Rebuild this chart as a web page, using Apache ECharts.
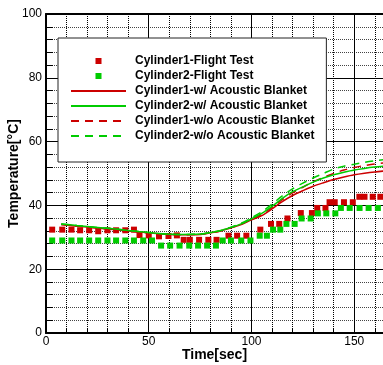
<!DOCTYPE html>
<html><head><meta charset="utf-8">
<script src="https://cdn.jsdelivr.net/npm/echarts@6/dist/echarts.min.js"></script>
<style>html,body{margin:0;padding:0;background:#fff}#c{width:383px;height:365px}</style>
</head><body><div id="c"></div>
<script>
const seriesNames = ['Cylinder1-Flight Test','Cylinder2-Flight Test','Cylinder1-w/ Acoustic Blanket','Cylinder2-w/ Acoustic Blanket','Cylinder1-w/o Acoustic Blanket','Cylinder2-w/o Acoustic Blanket'];
const c1TestTime = [3, 7.9, 12.4, 16.6, 21, 25.4, 29.9, 34.1, 38.6, 42.8, 45.5, 50, 55, 59.6, 63.7, 67, 70, 74.5, 79, 83, 88.8, 93, 97.5, 104.3, 109.5, 113.5, 117.5, 124, 129.4, 132, 136, 138, 140.5, 145, 149.3, 152.5, 155, 159, 162.7];
const c1TestTemp = [32.4, 32.4, 32.4, 32.2, 32.2, 31.9, 32.2, 32.2, 32.2, 32.4, 30.7, 30.6, 30.3, 30.4, 30.6, 29.2, 29.2, 29.2, 29.2, 29.2, 30.5, 30.5, 30.5, 32.4, 34.2, 34.2, 35.9, 37.6, 37.6, 39.2, 39.2, 41, 41, 41, 41, 42.7, 42.7, 42.7, 42.7];
const c2TestTime = [3, 7.9, 12.4, 16.6, 21, 25.4, 29.9, 34.1, 38.6, 42.8, 47.3, 51.6, 56, 60.4, 65, 69.7, 74, 78.4, 82.7, 86, 90, 95, 99.5, 104, 107.5, 110.5, 114, 117, 121, 124.4, 128.8, 132.3, 136.4, 140.8, 143.5, 147.8, 152.6, 157, 161.5];
const c2TestTemp = [29, 29, 29, 29, 29, 29, 29, 29, 29, 29, 29, 29, 27.4, 27.4, 27.4, 27.4, 27.4, 27.4, 27.4, 29, 29, 29, 29, 30.5, 30.5, 32.4, 32.4, 34.2, 34.2, 35.9, 35.9, 37.5, 37.5, 37.5, 39.2, 39.2, 39.2, 39.2, 39.2];
const simTime = [7.4, 15, 25, 35, 45, 55, 65, 75, 80, 85, 90, 95, 100, 105, 110, 115, 120, 125, 130, 135, 140, 145, 150, 155, 160, 165];
const c1With = [34.0, 33.5, 32.9, 32.3, 31.7, 31.1, 30.8, 30.9, 31.4, 32.0, 33.0, 34.0, 35.5, 36.8, 38.9, 41.2, 43.1, 44.6, 46.0, 47.1, 48.1, 48.9, 49.6, 50.1, 50.5, 50.8];
const c2With = [34.2, 33.7, 33.1, 32.5, 31.8, 31.2, 30.9, 31.0, 31.5, 32.1, 33.1, 34.2, 35.8, 37.5, 39.7, 42.2, 44.3, 45.8, 47.3, 48.6, 49.6, 50.4, 51.1, 51.6, 52.0, 52.3];
const c1Without = [34.0, 33.5, 32.9, 32.3, 31.7, 31.1, 30.8, 30.9, 31.4, 32.0, 33.0, 34.1, 35.7, 37.2, 39.4, 41.8, 43.9, 45.7, 47.4, 48.8, 50.0, 51.1, 51.9, 52.5, 53.0, 53.4];
const c2Without = [34.2, 33.7, 33.1, 32.5, 31.8, 31.2, 30.9, 31.0, 31.5, 32.1, 33.2, 34.4, 36.1, 38.0, 40.4, 43.0, 45.2, 47.0, 48.6, 50.0, 51.4, 52.3, 52.9, 53.5, 54.0, 54.4];
const xTickLabels = [0, 50, 100, 150];
const yTickLabels = [0, 20, 40, 60, 80, 100];

const RED = '#cc0000', GREEN = '#00cc00';
const FONT = 'Arial, "Liberation Sans", sans-serif';
const squareIcon = 'path://M0,0h55v0.01h-55z M24.5,2h6v6h-6z M0,9.99h55v0.01h-55z';
function pairs(xs, ys) { return xs.map((x, i) => [x, ys[i]]); }

const chart = echarts.init(document.getElementById('c'), null, {renderer: 'canvas'});
const option = {
  animation: false,
  backgroundColor: '#fff',
  grid: {left: 46, right: 0, top: 14, bottom: 32, containLabel: false, outerBoundsMode: 'none'},
  legend: {
    orient: 'vertical', left: 58, top: 38,
    padding: [15.5, 12, 18.5, 12],
    itemWidth: 55, itemHeight: 10, itemGap: 0,
    backgroundColor: '#fff', borderColor: '#222', borderWidth: 1,
    selectedMode: false,
    textStyle: {fontFamily: FONT, fontSize: 12, fontWeight: 'bold', color: '#000', lineHeight: 15, padding: [0, 0, 0, 4]},
    data: [
      {name: seriesNames[0], icon: squareIcon},
      {name: seriesNames[1], icon: squareIcon},
      {name: seriesNames[2], itemStyle: {opacity: 0}},
      {name: seriesNames[3], itemStyle: {opacity: 0}},
      {name: seriesNames[4], itemStyle: {opacity: 0}},
      {name: seriesNames[5], itemStyle: {opacity: 0}}
    ]
  },
  xAxis: [
    {
      type: 'value', min: 0, max: 164, interval: 10, position: 'bottom',
      name: 'Time[sec]', nameLocation: 'middle', nameGap: 15, nameMoveOverlap: false,
      nameTextStyle: {fontFamily: FONT, fontSize: 14, fontWeight: 'bold', color: '#000'},
      axisLine: {show: true, onZero: false, lineStyle: {color: '#000', width: 2}},
      axisTick: {show: true, inside: true, length: 4, lineStyle: {color: '#000'}},
      axisLabel: {show: true, margin: 3, fontFamily: FONT, fontSize: 12, color: '#000', showMaxLabel: false,
        formatter: v => xTickLabels.includes(v) ? String(v) : ''},
      splitLine: {show: true, lineStyle: {color: '#000', width: 1, type: [1, 1]}}
    },
    {
      type: 'value', min: 0, max: 164, interval: 50, position: 'top',
      axisLine: {show: true, onZero: false, lineStyle: {color: '#000', width: 2}},
      axisTick: {show: false}, axisLabel: {show: false},
      splitLine: {show: true, lineStyle: {color: '#000', width: 1}}
    }
  ],
  yAxis: [
    {
      type: 'value', min: 0, max: 100, interval: 4, position: 'left',
      name: 'Temperature[°C]', nameLocation: 'middle', nameGap: 25, nameRotate: 90, nameMoveOverlap: false,
      nameTextStyle: {fontFamily: FONT, fontSize: 14, fontWeight: 'bold', color: '#000'},
      axisLine: {show: true, onZero: false, lineStyle: {color: '#000', width: 2}},
      axisTick: {show: true, inside: true, length: 7, lineStyle: {color: '#000'}},
      axisLabel: {show: true, margin: 4, fontFamily: FONT, fontSize: 12, color: '#000',
        formatter: v => yTickLabels.includes(Math.round(v)) && Math.abs(v - Math.round(v)) < 1e-6 ? String(Math.round(v)) : ''},
      splitLine: {show: true, lineStyle: {color: '#444', width: 1, type: [1, 1]}}
    },
    {
      type: 'value', min: 0, max: 100, interval: 20, position: 'right',
      axisLine: {show: false}, axisTick: {show: false}, axisLabel: {show: false},
      splitLine: {show: true, lineStyle: {color: '#000', width: 1}}
    }
  ],
  series: [
    {name: seriesNames[0], type: 'scatter', xAxisIndex: 0, yAxisIndex: 0, symbol: 'rect', symbolSize: 6,
      itemStyle: {color: RED, opacity: 1}, data: pairs(c1TestTime, c1TestTemp), z: 3},
    {name: seriesNames[1], type: 'scatter', xAxisIndex: 0, yAxisIndex: 0, symbol: 'rect', symbolSize: 6,
      itemStyle: {color: GREEN, opacity: 1}, data: pairs(c2TestTime, c2TestTemp), z: 3},
    {name: seriesNames[2], type: 'line', xAxisIndex: 0, yAxisIndex: 0, symbol: 'none', smooth: 0.3,
      lineStyle: {color: RED, width: 1.5}, itemStyle: {color: RED}, data: pairs(simTime, c1With), z: 4},
    {name: seriesNames[4], type: 'line', xAxisIndex: 0, yAxisIndex: 0, symbol: 'none', smooth: 0.3,
      lineStyle: {color: RED, width: 1.5, type: [8, 6]}, itemStyle: {color: RED}, data: pairs(simTime, c1Without), z: 4},
    {name: seriesNames[3], type: 'line', xAxisIndex: 0, yAxisIndex: 0, symbol: 'none', smooth: 0.3,
      lineStyle: {color: GREEN, width: 1.5}, itemStyle: {color: GREEN}, data: pairs(simTime, c2With), z: 4},
    {name: seriesNames[5], type: 'line', xAxisIndex: 0, yAxisIndex: 0, symbol: 'none', smooth: 0.3,
      lineStyle: {color: GREEN, width: 1.5, type: [8, 6]}, itemStyle: {color: GREEN}, data: pairs(simTime, c2Without), z: 4}
  ]
};
chart.setOption(option);
</script>
</body></html>
